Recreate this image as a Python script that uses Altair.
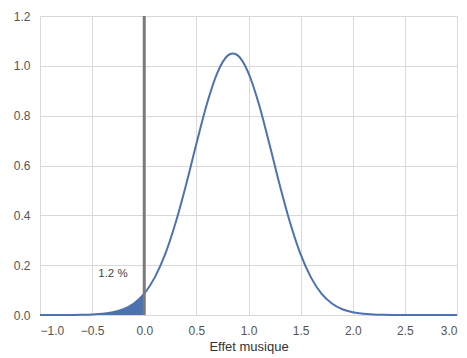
import altair as alt
import pandas as pd

# Curve values
xs = [-1.0, -0.9, -0.8, -0.7, -0.6, -0.5, -0.4, -0.3, -0.2, -0.1, 0.0,
      0.1, 0.2, 0.3, 0.4, 0.5, 0.6, 0.7, 0.8, 0.85, 0.9, 1.0, 1.1, 1.2,
      1.3, 1.4, 1.5, 1.6, 1.7, 1.8, 1.9, 2.0, 2.1, 2.2, 2.3, 2.4, 2.5,
      2.6, 2.7, 2.8, 2.9, 3.0]
ys = [0.0, 0.0, 0.0001, 0.0003, 0.0007, 0.0019, 0.0047, 0.0108, 0.0231, 0.0461, 0.086,
      0.150, 0.243, 0.369, 0.521, 0.687, 0.846, 0.971, 1.041, 1.050, 1.041, 0.971, 0.846, 0.687,
      0.521, 0.369, 0.243, 0.150, 0.086, 0.0461, 0.0231, 0.0108, 0.0047, 0.0019, 0.0007, 0.0003, 0.0001,
      0.0, 0.0, 0.0, 0.0, 0.0]

label_text = ["1.2 %"]
label_x = [-0.30]
label_y = [0.165]
vline_x = [0.0]

df = pd.DataFrame({"x": xs, "y": ys})
df_fill = df[df["x"] <= 0.0]
df_lab = pd.DataFrame({"x": label_x, "y": label_y, "t": label_text})
df_v = pd.DataFrame({"x": vline_x})

BLUE = "#4C72B0"
W, H = 417, 299

xscale = alt.Scale(domain=[-1.0, 3.0], nice=False, zero=False)
yscale = alt.Scale(domain=[0.0, 1.2], nice=False)

xaxis = alt.Axis(title="Effet musique", values=[-1.0, -0.5, 0.0, 0.5, 1.0, 1.5, 2.0, 2.5, 3.0],
                 format=".1f", labelPadding=10, titlePadding=4)
yaxis = alt.Axis(title=None, values=[0.0, 0.2, 0.4, 0.6, 0.8, 1.0, 1.2], format=".1f",
                 labelPadding=10)

area = alt.Chart(df_fill).mark_area(color=BLUE, opacity=1, interpolate="monotone").encode(
    x=alt.X("x:Q", scale=xscale, axis=xaxis),
    y=alt.Y("y:Q", scale=yscale, axis=yaxis),
)
line = alt.Chart(df).mark_line(color=BLUE, strokeWidth=2, interpolate="monotone").encode(
    x=alt.X("x:Q", scale=xscale),
    y=alt.Y("y:Q", scale=yscale),
)
vline = alt.Chart(df_v).mark_rule(color="#7a7a7a", strokeWidth=3).encode(
    x=alt.X("x:Q", scale=xscale),
)
text = alt.Chart(df_lab).mark_text(color="#444444", fontSize=11.5, font="Liberation Sans").encode(
    x=alt.X("x:Q", scale=xscale),
    y=alt.Y("y:Q", scale=yscale),
    text="t:N",
)

chart = alt.layer(area, line, vline, text).properties(
    width=W, height=H,
    autosize=alt.AutoSizeParams(type="none"),
    padding={"left": 32, "top": 8, "right": 2, "bottom": 44},
).configure_view(stroke=None).configure_axis(
    grid=True, gridColor="#d9d9d9", gridWidth=1, domain=False, ticks=False,
    labelFont="Liberation Sans", labelFontSize=12, labelColor="#555555",
    titleFont="Liberation Sans", titleFontSize=13, titleColor="#333333", titleFontWeight="normal",
)

chart.save("out.html", embed_options={"renderer": "svg", "actions": False})
